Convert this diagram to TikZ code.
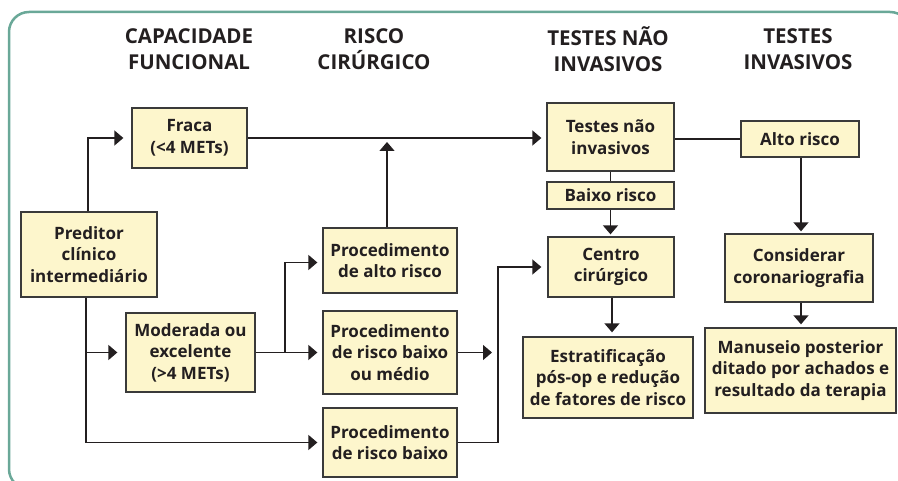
\documentclass[tikz,border=0pt]{standalone}
\usepackage{fontspec}
\setmainfont{Open Sans}
\usetikzlibrary{arrows.meta}
\definecolor{boxfill}{HTML}{FDF6CC}
\definecolor{boxline}{HTML}{3A3A3A}
\definecolor{framec}{HTML}{6AA898}
\definecolor{txt}{HTML}{231F20}
\begin{document}
\begin{tikzpicture}[x=1pt,y=-1pt,
  box/.style={draw=boxline, fill=boxfill, line width=1.3pt, inner sep=0pt, align=center,
    font=\fontsize{17}{21.5}\selectfont\bfseries, text=txt},
  hdr/.style={align=center, font=\fontsize{20.5}{25.5}\selectfont\bfseries, text=txt, inner sep=0pt},
  conn/.style={draw=txt, line width=1.4pt},
  arr/.style={conn, -{Triangle[length=9pt,width=15pt]}},
]
\useasboundingbox (0,0) rectangle (898,481);
\begin{scope}
\clip (0,0) rectangle (898,481);
\draw[framec, line width=2.5pt, rounded corners=20pt] (9,12) rectangle (910,489);
\end{scope}

% headers
\node[hdr] (h1) at (189,49) {CAPACIDADE\\FUNCIONAL};
\node[hdr] (h2) at (374,49) {RISCO\\CIRÚRGICO};
\node[hdr] (h3) at (608,49) {TESTES NÃO\\INVASIVOS};
\node[hdr] (h4) at (798,49) {TESTES\\INVASIVOS};

% boxes
\node[box, minimum width=136pt, minimum height=85pt] (pred) at (89,254.5) {Preditor\\clínico\\intermediário};
\node[box, minimum width=115pt, minimum height=60pt] (fraca) at (189.5,138) {Fraca\\(<4 METs)};
\node[box, minimum width=129pt, minimum height=79pt] (moder) at (190.5,352.5) {Moderada ou\\excelente\\(>4 METs)};
\node[box, minimum width=134pt, minimum height=65pt] (procalto) at (390,260.5) {Procedimento\\de alto risco};
\node[box, minimum width=134pt, minimum height=83pt] (procmed) at (390,352.5) {Procedimento\\de risco baixo\\ou médio};
\node[box, minimum width=134pt, minimum height=69pt] (procbaixo) at (390,442.5) {Procedimento\\de risco baixo};
\node[box, minimum width=127pt, minimum height=68pt] (testes) at (610.5,137) {Testes não\\invasivos};
\node[box, minimum width=127pt, minimum height=27pt] (baixo) at (610.5,195.5) {Baixo risco};
\node[box, minimum width=126pt, minimum height=60pt] (centro) at (611,267) {Centro\\cirúrgico};
\node[box, minimum width=170pt, minimum height=81pt] (estrat) at (608,377.5) {Estratificação\\pós-op e redução\\de fatores de risco};
\node[box, minimum width=118pt, minimum height=36pt] (alto) at (800,139) {Alto risco};
\node[box, minimum width=148pt, minimum height=68pt] (consid) at (799,268) {Considerar\\coronariografia};
\node[box, minimum width=191pt, minimum height=85pt] (manus) at (800.5,370.5) {Manuseio posterior\\ditado por achados e\\resultado da terapia};

\coordinate (j) at (285,352.5);
\coordinate (m) at (492,352.5);
\coordinate (v) at (498,442.5);

% connectors
\draw[arr, shorten >=8pt] ([xshift=-1pt]pred.north) |- (fraca.west);
\draw[arr, shorten >=5pt] (fraca.east) -- (fraca.east -| testes.west);
\draw[arr, shorten >=4pt] ([xshift=-3pt]procalto.north) -- ([xshift=-3pt]procalto.north |- fraca.east);
\draw[arr, shorten >=5pt] ([xshift=-3pt]pred.south) |- (procbaixo.west);
\draw[arr, shorten >=8pt] ([xshift=-3pt]pred.south |- moder.west) -- (moder.west);
\draw[arr, shorten >=5pt] (moder.east) -- (procmed.west);
\draw[arr, shorten >=5pt] (j) |- ([yshift=-2pt]procalto.west);
\draw[arr] (procmed.east) -- (m);
\draw[arr, shorten >=6pt] (procbaixo.east) -- (v) |- (centro.west);
\draw[conn] (alto.west -| testes.east) -- (alto.west);
\draw[conn] (testes.south) -- (testes.south |- baixo.north);
\draw[arr, shorten >=2pt] (baixo.south) -- (baixo.south |- centro.north);
\draw[arr, shorten >=4pt] ([xshift=1pt]centro.south) -- ([xshift=1pt]centro.south |- estrat.north);
\draw[arr, shorten >=2pt] ([xshift=1pt]alto.south) -- ([xshift=1pt]alto.south |- consid.north);
\draw[arr, shorten >=3pt] ([xshift=2pt]consid.south) -- ([xshift=2pt]consid.south |- manus.north);
\end{tikzpicture}
\end{document}
